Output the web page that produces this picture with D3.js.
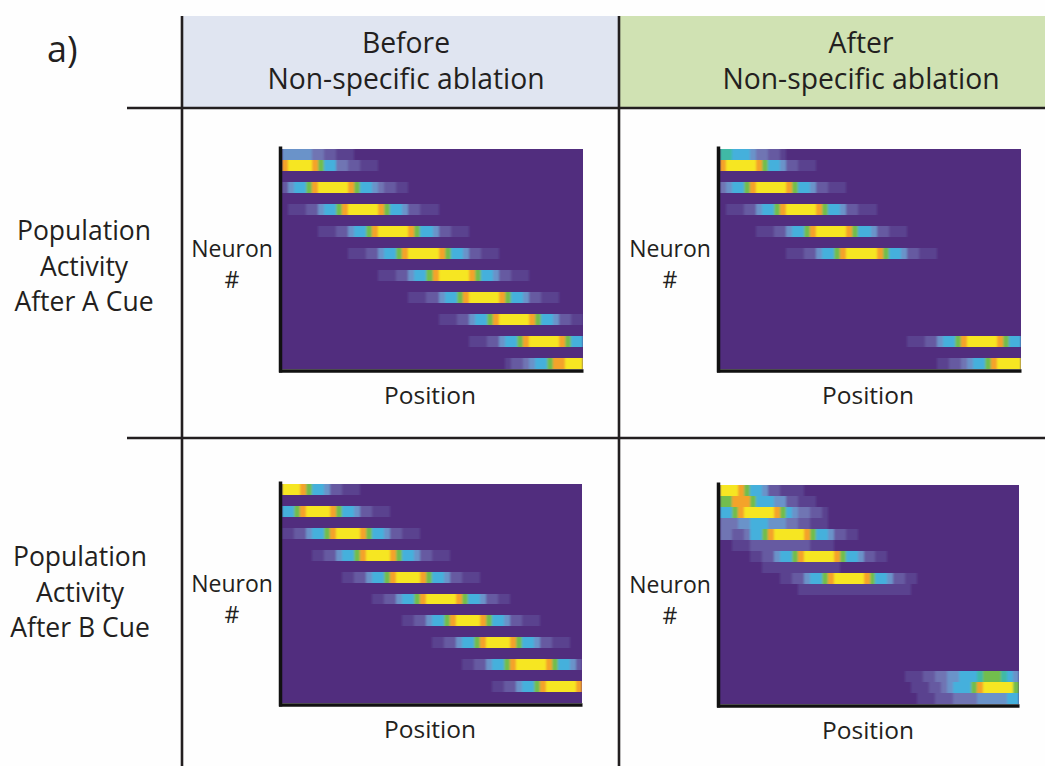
<!DOCTYPE html>
<html>
<head>
<meta charset="utf-8">
<script src="https://cdn.jsdelivr.net/npm/d3@7"></script>
<style>
  html, body { margin: 0; padding: 0; background: #fefefe; }
  svg text { font-family: "Open Sans", "Noto Sans", sans-serif; fill: #231f20; }
</style>
</head>
<body>
<svg id="fig" width="1045" height="766"></svg>
<script>
// ---- Table headings -------------------------------------------------------
const panelLetter = "a)";
const columnTitles = [["Before", "Non-specific ablation"], ["After", "Non-specific ablation"]];
const rowTitles = [["Population", "Activity", "After A Cue"], ["Population", "Activity", "After B Cue"]];
const yAxisLabel = ["Neuron", "#"];
const xAxisLabel = "Position";

// ---- Activity maps --------------------------------------------------------
// 20 neurons (rows) x 50 position bins (columns). Each neuron is listed as
// [first active bin, activity levels 0-9 from that bin on]; null = silent.
const beforeA = [
  [0,  [4,4,4,4,4,3,3,2,2,1,1,1]],
  [0,  [8,9,9,9,9,8,7,5,5,3,3,2,2,1,1,1]],
  null,
  [0,  [2,4,5,5,7,8,9,9,9,9,9,8,7,5,5,4,3,2,2,1,1]],
  null,
  [1,  [1,1,1,2,2,4,5,5,7,8,9,9,9,9,9,8,7,5,5,4,2,2,1,1,1]],
  null,
  [6,  [1,1,1,2,2,4,5,5,7,8,9,9,9,9,9,8,7,5,5,4,2,2,1,1,1]],
  null,
  [11, [1,1,1,2,2,4,5,5,7,8,9,9,9,9,9,8,7,5,5,4,2,2,1,1,1]],
  null,
  [16, [1,1,1,2,2,4,5,5,7,8,9,9,9,9,9,8,7,5,5,4,2,2,1,1,1]],
  null,
  [21, [1,1,1,2,2,4,5,5,7,8,9,9,9,9,9,8,7,5,5,4,2,2,1,1,1]],
  null,
  [26, [1,1,1,2,2,4,5,5,7,8,9,9,9,9,9,8,7,5,5,4,2,2,1,1]],
  null,
  [31, [1,1,1,2,2,4,5,5,7,8,9,9,9,9,9,8,7,5,5]],
  null,
  [37, [1,2,2,3,4,5,5,7,8,8,9,9,9]]
];

const afterA = [
  [0,  [6,6,5,5,5,4,3,3,2,2,1]],
  [0,  [8,9,9,9,9,9,8,7,5,5,4,2,2,1,1,1]],
  null,
  [0,  [3,4,5,5,7,8,9,9,9,9,9,8,7,5,5,4,2,2,1,1,1]],
  null,
  [1,  [1,1,1,2,2,4,5,5,7,8,9,9,9,9,9,8,7,5,5,4,2,2,1,1,1]],
  null,
  [6,  [1,1,1,2,2,4,5,5,7,8,9,9,9,9,9,8,7,5,5,4,2,2,1,1,1]],
  null,
  [11, [1,1,1,2,2,4,5,5,7,8,9,9,9,9,9,8,7,5,5,4,2,2,1,1,1]],
  null, null, null, null, null, null, null,
  [31, [1,1,1,2,2,4,5,5,7,8,9,9,9,9,9,8,7,5,5]],
  null,
  [36, [1,1,2,2,3,4,5,5,7,8,9,9,9,9]]
];

const beforeB = [
  [0,  [9,9,9,8,7,5,5,4,2,2,1,1,1]],
  null,
  [0,  [5,5,7,8,9,9,9,9,8,7,5,5,4,2,2,1,1,1]],
  null,
  [0,  [1,1,2,2,4,5,5,7,8,9,9,9,9,8,7,5,5,4,2,2,1,1,1]],
  null,
  [5,  [1,1,2,2,4,5,5,7,8,9,9,9,9,8,7,5,5,4,2,2,1,1,1]],
  null,
  [10, [1,1,2,2,4,5,5,7,8,9,9,9,9,8,7,5,5,4,2,2,1,1,1]],
  null,
  [15, [1,1,2,2,4,5,5,7,8,9,9,9,9,9,8,7,5,5,4,2,2,1,1]],
  null,
  [20, [1,1,2,2,4,5,5,7,8,9,9,9,9,8,7,5,5,4,2,2,1,1,1]],
  null,
  [25, [1,1,2,2,4,5,5,7,8,9,9,9,9,8,7,5,5,4,2,2,1,1,1]],
  null,
  [30, [1,1,2,2,4,5,5,7,8,9,9,9,9,9,8,7,5,5,4,2]],
  null,
  [35, [1,1,2,2,4,5,5,7,8,9,9,9,9,9,8]],
  null
];

const afterB = [
  [0,  [9,9,9,8,7,5,5,4,2,2,1,1,1,1]],
  [0,  [7,7,8,8,8,7,5,5,5,4,4,2,2,1,1,1]],
  [0,  [5,5,7,8,9,9,9,9,9,8,7,5,4,3,3,2,2,1]],
  [0,  [3,3,3,4,4,5,5,5,4,4,4,3,3,2,2,1,1,1]],
  [0,  [3,3,2,2,3,5,5,7,8,9,9,9,9,9,8,7,5,5,4,2,2,1,1]],
  [2,  [1,1,1,2,2,2,2,2,2,2,2,2,2,1,1,1,1]],
  [5,  [1,1,2,2,4,5,5,7,8,9,9,9,9,9,8,7,5,5,4,2,2,1,1]],
  [7,  [1,1,1,1,1,1,1,1,1,1,1,1,1]],
  [10, [1,1,2,2,4,5,5,7,8,9,9,9,9,9,8,7,5,5,4,2,2,1,1]],
  [13, [1,1,1,1,1,1,1,1,1,1,1,1,1,1,1,1,1,1,1]],
  null, null, null, null, null, null, null,
  [31, [1,1,1,2,2,3,3,4,4,5,5,5,6,7,7,7,6,5,4]],
  [32, [1,1,1,2,2,3,4,5,5,5,7,8,9,9,9,9,9,7]],
  [33, [1,1,1,2,2,2,3,3,3,3,4,4,4,4,4,5,5]]
];

// ---- Drawing --------------------------------------------------------------
const N_NEURONS = 20, N_BINS = 50;
const levelPalette = ["#512d7e", "#5a438f", "#665aa1", "#6f75b3", "#6a93c9",
                      "#45b0dc", "#40b9a6", "#72bd4e", "#f4a32a", "#f6e620"];
const color = d3.scaleOrdinal().domain(d3.range(10)).range(levelPalette);

const svg = d3.select("#fig");
const ink = "#231f20";
const defs = svg.append("defs");

// slight horizontal smoothing of the rendered activity bins
defs.append("filter").attr("id", "soft")
  .attr("x", "-5%").attr("y", "-5%").attr("width", "110%").attr("height", "110%")
  .append("feGaussianBlur").attr("stdDeviation", "1.3 0.5");

// header cells
svg.append("rect").attr("x", 183).attr("y", 16).attr("width", 436).attr("height", 92).attr("fill", "#e0e5f1");
svg.append("rect").attr("x", 620).attr("y", 16).attr("width", 425).attr("height", 92).attr("fill", "#d0e2b3");

// table rules
const rules = svg.append("g").attr("stroke", ink).attr("stroke-width", 2.6);
rules.append("line").attr("x1", 182).attr("x2", 182).attr("y1", 16).attr("y2", 766);
rules.append("line").attr("x1", 619).attr("x2", 619).attr("y1", 16).attr("y2", 766);
rules.append("line").attr("x1", 127).attr("x2", 1045).attr("y1", 108).attr("y2", 108);
rules.append("line").attr("x1", 127).attr("x2", 1045).attr("y1", 438).attr("y2", 438);

// letter + headings
svg.append("text").attr("x", 47).attr("y", 62).attr("font-size", 36).text(panelLetter);

const colCenters = [406, 861];
columnTitles.forEach((lines, i) => {
  lines.forEach((t, j) => {
    svg.append("text").attr("x", colCenters[i]).attr("y", 53 + j * 35.5)
      .attr("text-anchor", "middle").attr("font-size", 28.3).text(t);
  });
});

const rowTitleCenters = [[84, 240], [80, 566]];
rowTitles.forEach((lines, i) => {
  lines.forEach((t, j) => {
    svg.append("text").attr("x", rowTitleCenters[i][0]).attr("y", rowTitleCenters[i][1] + j * 35.5)
      .attr("text-anchor", "middle").attr("font-size", 26.5).text(t);
  });
});

// heatmap panels
const panels = [
  {data: beforeA, x0: 282, y0: 149, w: 301, h: 220},
  {data: afterA,  x0: 720, y0: 149, w: 301, h: 220},
  {data: beforeB, x0: 282, y0: 484, w: 300, h: 219},
  {data: afterB,  x0: 720, y0: 485, w: 299, h: 219}
];

panels.forEach((p, i) => {
  const x = d3.scaleBand().domain(d3.range(N_BINS)).range([p.x0, p.x0 + p.w]);
  const y = d3.scaleBand().domain(d3.range(N_NEURONS)).range([p.y0, p.y0 + p.h]);

  const cells = [];
  p.data.forEach((row, r) => {
    if (!row) return;
    row[1].forEach((v, k) => {
      const c = row[0] + k;
      if (v > 0 && c < N_BINS) cells.push({r, c, v});
    });
  });

  defs.append("clipPath").attr("id", "clip" + i)
    .append("rect").attr("x", p.x0).attr("y", p.y0).attr("width", p.w).attr("height", p.h);

  const g = svg.append("g").attr("clip-path", `url(#clip${i})`);
  // silent background
  g.append("rect").attr("x", p.x0).attr("y", p.y0).attr("width", p.w).attr("height", p.h)
    .attr("fill", color(0));
  g.append("g").attr("filter", "url(#soft)").attr("shape-rendering", "crispEdges")
    .selectAll("rect").data(cells).join("rect")
    .attr("x", d => x(d.c))
    .attr("y", d => y(d.r))
    .attr("width", x.bandwidth())
    .attr("height", y.bandwidth())
    .attr("fill", d => color(d.v));

  // axes: plain thick spines without ticks
  const xAxisScale = d3.scaleLinear().domain([0, 1]).range([p.x0 - 3.5, p.x0 + p.w]);
  const yAxisScale = d3.scaleLinear().domain([0, 1]).range([p.y0 + p.h + 3, p.y0 - 3]);
  const ax = svg.append("g").attr("transform", `translate(0,${p.y0 + p.h + 1.5})`)
    .call(d3.axisBottom(xAxisScale).ticks(0).tickSizeOuter(0));
  const ay = svg.append("g").attr("transform", `translate(${p.x0 - 2},0)`)
    .call(d3.axisLeft(yAxisScale).ticks(0).tickSizeOuter(0));
  [ax, ay].forEach(a => a.select(".domain").attr("stroke", "#111").attr("stroke-width", 3.5));

  // axis titles
  const yLabX = p.x0 - 50;
  yAxisLabel.forEach((t, j) => {
    svg.append("text").attr("x", yLabX).attr("y", p.y0 + 108 + j * 31)
      .attr("text-anchor", "middle").attr("font-size", 23).text(t);
  });
  svg.append("text").attr("x", p.x0 + 148).attr("y", p.y0 + p.h + 35)
    .attr("text-anchor", "middle").attr("font-size", 24.5).text(xAxisLabel);
});
</script>
</body>
</html>
